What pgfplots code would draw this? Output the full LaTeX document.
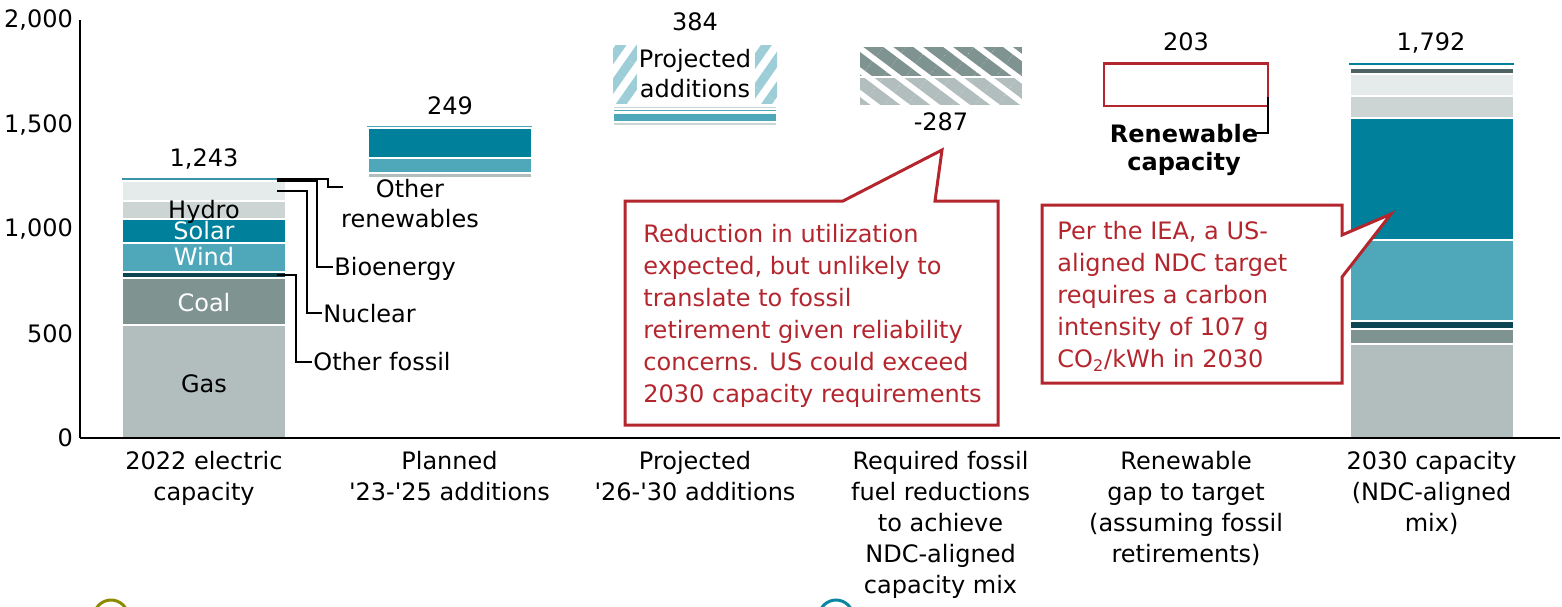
\documentclass[border=0pt]{standalone}
\usepackage{pgfplots}
\pgfplotsset{compat=1.18}
\usepackage{fontspec}
\setmainfont{DejaVu Sans}[Ligatures=TeXOff]
\usetikzlibrary{patterns.meta}

\definecolor{gasc}{HTML}{B1BEBD}
\definecolor{coalc}{HTML}{7F9390}
\definecolor{ofc}{HTML}{0E4552}
\definecolor{windc}{HTML}{4FA8BA}
\definecolor{solarc}{HTML}{00809A}
\definecolor{hydroc}{HTML}{CCD5D3}
\definecolor{nucc}{HTML}{E5EAEA}
\definecolor{bioc}{HTML}{4E6363}
\definecolor{orc}{HTML}{3A95A8}
\definecolor{projc}{HTML}{9DCED8}
\definecolor{redc}{HTML}{B4262E}
\definecolor{olivec}{HTML}{8C8A00}
\definecolor{tealc}{HTML}{0A87A0}

\pgfplotsset{
  base/.style={scale only axis, width=740pt, height=209pt,
    xmin=-0.505, xmax=5.523, ymin=0, ymax=2000, enlargelimits=false,
    ybar stacked, bar width=82pt, clip=false, at={(0,0)}, anchor=south west},
  hid/.style={base, hide axis},
  seg/.style={fill=#1, draw=white, line width=1pt},
  tline/.style={fill=#1, draw=#1, line width=0.4pt},
  gap/.style={fill=none, draw=none},
}

\begin{document}
\begin{tikzpicture}[font=\fontsize{12}{16}\selectfont]
% ---- Bar 1: 2022 electric capacity (1,243)
\begin{axis}[hid]
\addplot[seg=gasc]   coordinates {(0,540)};
\addplot[seg=coalc]  coordinates {(0,225)};
\addplot[seg=ofc]    coordinates {(0,29)};
\addplot[seg=windc]  coordinates {(0,140)};
\addplot[seg=solarc] coordinates {(0,115)};
\addplot[seg=hydroc] coordinates {(0,85)};
\addplot[seg=nucc]   coordinates {(0,94)};
\addplot[gap]        coordinates {(0,10)};
\addplot[tline=orc]  coordinates {(0,5)};
\end{axis}
% ---- Bar 2: planned additions (249)
\begin{axis}[hid]
\addplot[gap]        coordinates {(1,1243)};
\addplot[seg=gasc]   coordinates {(1,25)};
\addplot[seg=windc]  coordinates {(1,72)};
\addplot[seg=solarc] coordinates {(1,144)};
\addplot[gap]        coordinates {(1,3)};
\addplot[tline=windc] coordinates {(1,5)};
\end{axis}
% ---- Bar 3: projected additions (384)
\begin{axis}[hid]
\addplot[gap]        coordinates {(2,1492)};
\addplot[seg=hydroc] coordinates {(2,22)};
\addplot[seg=windc]  coordinates {(2,41)};
\addplot[gap]        coordinates {(2,5)};
\addplot[seg=windc]  coordinates {(2,13)};
\addplot[seg=hydroc] coordinates {(2,17)};
\addplot[gap]        coordinates {(2,10)};
\addplot[draw=none, pattern={Lines[angle=55,distance=8.5pt,line width=4.5pt]}, pattern color=projc] coordinates {(2,276)};
\end{axis}
% ---- Bar 4: required fossil reductions (-287)
\begin{axis}[hid]
\addplot[gap] coordinates {(3,1589)};
\addplot[draw=white, line width=1pt, pattern={Lines[angle=-37,distance=9pt,line width=6pt]}, pattern color=gasc] coordinates {(3,140)};
\addplot[draw=white, line width=1pt, pattern={Lines[angle=-37,distance=9pt,line width=6pt]}, pattern color=coalc] coordinates {(3,147)};
\end{axis}
% ---- Bar 5: renewable gap (203)
\begin{axis}[hid]
\addplot[gap] coordinates {(4,1589)};
\addplot[draw=redc, fill=none, line width=1.2pt] coordinates {(4,203)};
\end{axis}
% ---- Bar 6: 2030 capacity (1,792) + visible axis
\begin{axis}[base, axis on top,
    axis x line*=bottom, axis y line*=left,
    axis line style={-, line width=0.8pt, black},
    major tick length=0pt,
    xtick={0,1,2,3,4,5},
    xticklabels={{2022 electric\\capacity},{Planned\\'23-'25 additions},{Projected\\'26-'30 additions},{Required fossil\\fuel reductions\\to achieve\\NDC-aligned\\capacity mix},{Renewable\\gap to target\\(assuming fossil\\retirements)},{2030 capacity\\(NDC-aligned\\mix)}},
    xticklabel style={align=center, font=\fontsize{12}{15.5}\selectfont, yshift=-3pt},
    ytick={0,500,1000,1500,2000},
    scaled y ticks=false,
    yticklabel style={font=\fontsize{12}{14}\selectfont},
    /pgf/number format/1000 sep={,},
    /pgf/number format/assume math mode=true]
\addplot[seg=gasc]   coordinates {(5,450)};
\addplot[seg=coalc]  coordinates {(5,72)};
\addplot[seg=ofc]    coordinates {(5,38)};
\addplot[seg=windc]  coordinates {(5,388)};
\addplot[seg=solarc] coordinates {(5,582)};
\addplot[seg=hydroc] coordinates {(5,107)};
\addplot[seg=nucc]   coordinates {(5,105)};
\addplot[seg=bioc]   coordinates {(5,29)};
\addplot[gap]        coordinates {(5,16)};
\addplot[tline=solarc] coordinates {(5,5)};
\end{axis}

% ---- annotations in pixel coordinates of the reference
\begin{scope}[x=0.5pt, y=-0.5pt, shift={(-40pt,219pt)}]
% totals
\node[anchor=base] at (204,166) {1,243};
\node[anchor=base] at (450,114) {249};
\node[anchor=base] at (695,31) {384};
\node[anchor=base] at (941,131) {-287};
\node[anchor=base] at (1186,51) {203};
\node[anchor=base] at (1431,51) {1,792};
% in-bar labels
\node[anchor=base] at (204,218) {Hydro};
\node[anchor=base, text=white] at (204,239) {Solar};
\node[anchor=base, text=white] at (204,265) {Wind};
\node[anchor=base, text=white] at (204,311) {Coal};
\node[anchor=base] at (204,392) {Gas};
% leader lines
\draw[line width=1pt] (277,179.3)--(328,179.3)--(328,186.7)--(343,186.7);
\draw[line width=1pt] (277,181)--(317,181)--(317,266.7)--(333,266.7);
\draw[line width=1pt] (277,190.7)--(307,190.7)--(307,313)--(322,313);
\draw[line width=1pt] (277,275)--(296,275)--(296,361.7)--(312,361.7);
\node[anchor=base] at (410,197) {Other};
\node[anchor=base] at (410,227) {renewables};
\node[anchor=base west, inner sep=0] at (334,275) {Bioenergy};
\node[anchor=base west, inner sep=0] at (323,322) {Nuclear};
\node[anchor=base west, inner sep=0] at (313,370) {Other fossil};
% projected additions label
\fill[white] (637,44) rectangle (755,104);
\node[anchor=base] at (695,67) {Projected};
\node[anchor=base] at (695,97) {additions};
% renewable capacity label
\draw[line width=1pt] (1268,97)--(1268,133)--(1253,133);
\node[anchor=base, font=\fontsize{12}{16}\selectfont\bfseries] at (1184,142) {Renewable};
\node[anchor=base, font=\fontsize{12}{16}\selectfont\bfseries] at (1184,170) {capacity};
% callout 1
\draw[redc, line width=1.5pt, fill=white, line join=miter]
  (625,201)--(843,201)--(942,150)--(935,201)--(998,201)--(998,425)--(625,425)--cycle;
\node[anchor=north west, inner sep=0, align=left, text=redc, font=\fontsize{12}{16}\selectfont] at (643,224)
  {Reduction in utilization\\expected, but unlikely to\\translate to fossil\\retirement given reliability\\concerns. US could exceed\\2030 capacity requirements};
% callout 2
\draw[redc, line width=1.5pt, fill=white, line join=miter]
  (1042,205)--(1342,205)--(1342,235)--(1391,214)--(1342,277)--(1342,383)--(1042,383)--cycle;
\node[anchor=north west, inner sep=0, align=left, text=redc, font=\fontsize{12}{16}\selectfont] at (1057,221)
  {Per the IEA, a US-\\aligned NDC target\\requires a carbon\\intensity of 107 g\\CO\textsubscript{2}/kWh in 2030};
% partially visible legend circles
\draw[olivec, line width=1.5pt] (111,617) circle (17);
\draw[tealc, line width=1.5pt] (836,617) circle (17);
\pgfresetboundingbox
\path[use as bounding box] (0,0) rectangle (1562,606);
\end{scope}
\end{tikzpicture}
\end{document}
